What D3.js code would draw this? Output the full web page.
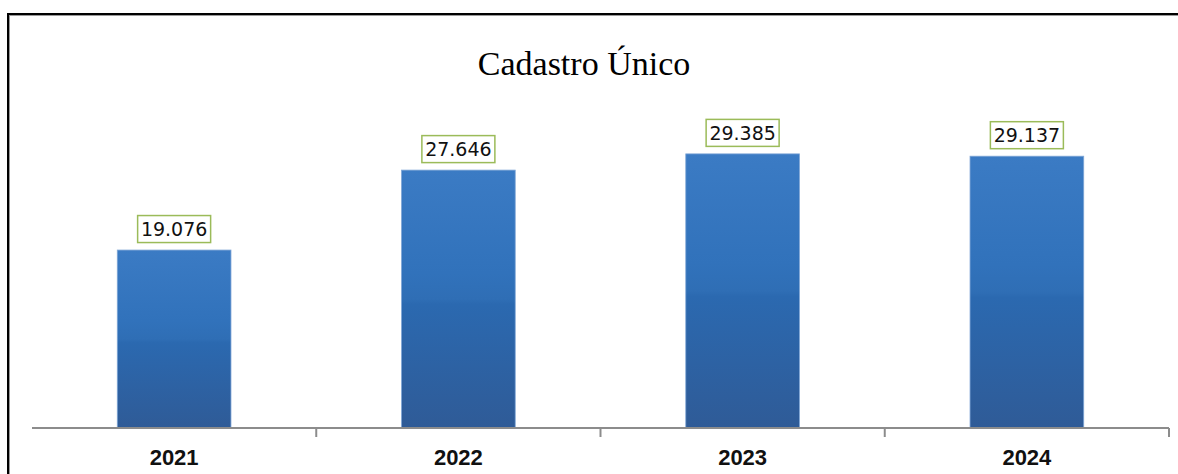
<!DOCTYPE html>
<html><head><meta charset="utf-8">
<script src="https://cdn.jsdelivr.net/npm/d3@7"></script>
<style>html,body{margin:0;padding:0;background:#fff;}svg{display:block;}</style>
</head><body>
<script>
const categories = ["2021", "2022", "2023", "2024"];
const values = [19.076, 27.646, 29.385, 29.137];
const valueLabels = ["19.076", "27.646", "29.385", "29.137"];
const title = "Cadastro Único";

const W = 1178, H = 474;
const svg = d3.select("body").append("svg").attr("width", W).attr("height", H);

const defs = svg.append("defs");
const g = defs.append("linearGradient").attr("id", "barGrad").attr("x1", 0).attr("y1", 0).attr("x2", 0).attr("y2", 1);
[["0%", "#3b7bc4"], ["40%", "#3172bb"], ["50%", "#2f6eb5"], ["52%", "#2b69b0"], ["100%", "#2f5b97"]]
  .forEach(([o, c]) => g.append("stop").attr("offset", o).attr("stop-color", c));

// outer frame (top and left)
svg.append("line").attr("x1", 7).attr("x2", W).attr("y1", 15.5).attr("y2", 15.5).attr("stroke", "#999").attr("stroke-width", 1);
svg.append("line").attr("x1", 9.5).attr("x2", 9.5).attr("y1", 14).attr("y2", H).attr("stroke", "#999").attr("stroke-width", 1);
svg.append("line").attr("x1", 7).attr("x2", W).attr("y1", 14).attr("y2", 14).attr("stroke", "#000").attr("stroke-width", 2);
svg.append("line").attr("x1", 8).attr("x2", 8).attr("y1", 13).attr("y2", H).attr("stroke", "#000").attr("stroke-width", 2);

const x = d3.scaleBand().domain(categories).range([32, 1169]).paddingInner(0.6).paddingOuter(0.3);
const y = d3.scaleLinear().domain([0, 35]).range([428, 101.5]);

// title
svg.append("text").attr("x", 584).attr("y", 75).attr("text-anchor", "middle")
  .attr("font-family", "Liberation Serif, Times New Roman, serif").attr("font-size", 34).attr("fill", "#000")
  .text(title);

// bars
svg.selectAll("rect.bar").data(values).enter().append("rect").attr("class", "bar")
  .attr("x", (d, i) => x(categories[i]))
  .attr("y", d => y(d))
  .attr("width", x.bandwidth())
  .attr("height", d => y(0) - y(d))
  .attr("fill", "url(#barGrad)")
  .attr("stroke", "#7fa6d6").attr("stroke-width", 0.8);

// axis
const axis = d3.axisBottom(x).tickSize(0).tickFormat("");
const ax = svg.append("g").attr("transform", `translate(0,${y(0)})`).call(axis);
ax.select(".domain").attr("stroke", "#8c8c8c").attr("stroke-width", 2).attr("d", "M32,0H1169");
const bounds = d3.range(categories.length + 1).map(i => 32 + i * (1169 - 32) / categories.length).slice(1);
ax.selectAll("line.bnd").data(bounds).enter().append("line").attr("class", "bnd")
  .attr("x1", d => d).attr("x2", d => d).attr("y1", 0).attr("y2", 9)
  .attr("stroke", "#8c8c8c").attr("stroke-width", 2);
svg.selectAll("text.cat").data(categories).enter().append("text").attr("class", "cat")
  .attr("x", d => x(d) + x.bandwidth() / 2).attr("y", 465).attr("text-anchor", "middle")
  .attr("font-family", "Liberation Sans, Arial, sans-serif").attr("font-weight", "bold").attr("font-size", 22)
  .attr("fill", "#111").text(d => d);

// value labels
const lbl = svg.selectAll("g.lbl").data(values).enter().append("g").attr("class", "lbl")
  .attr("transform", (d, i) => `translate(${x(categories[i]) + x.bandwidth() / 2},${y(d) - 21})`);
lbl.append("rect").attr("x", -36.5).attr("y", -13.5).attr("width", 73).attr("height", 27)
  .attr("fill", "#fff").attr("stroke", "#9bbb59").attr("stroke-width", 1.5);
lbl.append("text").attr("x", 0).attr("y", 7).attr("text-anchor", "middle")
  .attr("font-family", "DejaVu Sans, Verdana, sans-serif").attr("font-size", 19).attr("fill", "#111")
  .text((d, i) => valueLabels[i]);
</script>
</body></html>
